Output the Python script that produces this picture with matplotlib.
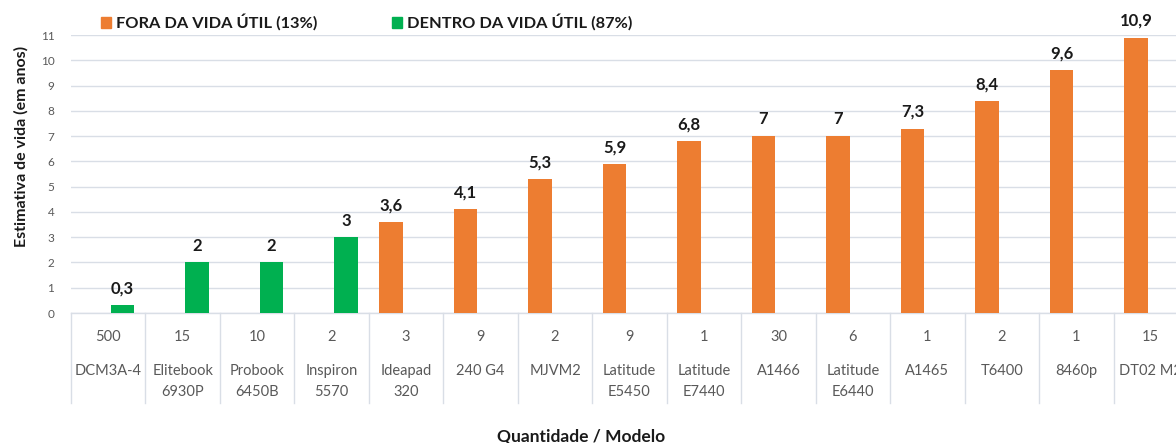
import matplotlib
matplotlib.use("Agg")
import matplotlib.pyplot as plt
from matplotlib.patches import Rectangle

plt.rcParams["font.family"] = ["Lato", "DejaVu Sans"]

# ----------------------------- dados -----------------------------
quantidades = ["500", "15", "10", "2", "3", "9", "2", "9", "1", "30", "6", "1", "2", "1", "15"]
modelos = ["DCM3A-4", "Elitebook\n6930P", "Probook\n6450B", "Inspiron\n5570", "Ideapad\n320",
           "240 G4", "MJVM2", "Latitude\nE5450", "Latitude\nE7440", "A1466", "Latitude\nE6440",
           "A1465", "T6400", "8460p", "DT02 M2"]
vida = [0.3, 2, 2, 3, 3.6, 4.1, 5.3, 5.9, 6.8, 7, 7, 7.3, 8.4, 9.6, 10.9]
dentro = [True, True, True, True] + [False] * 11   # dentro da vida útil?

ORANGE, GREEN = "#ED7D31", "#00B050"
GRAY_TXT, GRID = "#595959", "#D9DEE6"

W, H = 1176, 443
fig = plt.figure(figsize=(W / 100, H / 100), dpi=100)
ax = fig.add_axes([71 / W, 1 - 313 / H, 1117 / W, 278 / H])

x = list(range(len(vida)))
bw = 0.315
xo = [i - 0.20 for i, d in zip(x, dentro) if not d]
yo = [v for v, d in zip(vida, dentro) if not d]
xg = [i + 0.19 for i, d in zip(x, dentro) if d]
yg = [v for v, d in zip(vida, dentro) if d]
ax.bar(xo, yo, width=bw, color=ORANGE, zorder=3)
ax.bar(xg, yg, width=bw, color=GREEN, zorder=3)

for xs, ys in ((xo, yo), (xg, yg)):
    for xi, v in zip(xs, ys):
        s = f"{v:g}".replace(".", ",")
        ax.annotate(s, (xi, v), xytext=(0, 12), textcoords="offset points",
                    ha="center", va="center", fontsize=12, fontweight="bold",
                    color="#1a1a1a", annotation_clip=False)

ax.set_xlim(-0.5, len(vida) - 0.5)
ax.set_ylim(0, 11)
ax.set_yticks(range(0, 12))
ax.tick_params(axis="y", length=0, labelsize=8.5, labelcolor=GRAY_TXT, pad=12)
ax.set_xticks([])
ax.grid(axis="y", color=GRID, linewidth=1, zorder=0)
for sp in ("top", "right", "left"):
    ax.spines[sp].set_visible(False)
ax.spines["bottom"].set_color(GRID)
ax.spines["bottom"].set_linewidth(1)

# tabela de dados abaixo do eixo
trans = ax.get_xaxis_transform()
for b in range(len(vida) + 1):
    ax.plot([b - 0.5, b - 0.5], [0, -90 / 278], transform=trans, color=GRID,
            linewidth=1, clip_on=False)
for i, (q, m) in enumerate(zip(quantidades, modelos)):
    ax.text(i, -24 / 278, q, transform=trans, ha="center", va="center",
            fontsize=10.5, color=GRAY_TXT)
    for k, linha in enumerate(m.split("\n")):
        ax.text(i, (-58 - 21 * k) / 278, linha, transform=trans, ha="center",
                va="center", fontsize=10.5, color=GRAY_TXT)

fig.text(21 / W, 1 - 146 / H, "Estimativa de vida (em anos)", rotation=90,
         ha="center", va="center", fontsize=11.5, fontweight="bold", color="#1a1a1a")
fig.text(581 / W, 1 - 437 / H, "Quantidade / Modelo", ha="center", va="center",
         fontsize=12.5, fontweight="bold", color="#1a1a1a")

# legenda
for (x0, cor, rot) in ((101, ORANGE, "FORA DA VIDA ÚTIL (13%)"),
                       (392, GREEN, "DENTRO DA VIDA ÚTIL (87%)")):
    fig.patches.append(Rectangle((x0 / W, 1 - 28 / H), 10 / W, 11 / H,
                                 transform=fig.transFigure, color=cor))
    fig.text((x0 + 15) / W, 1 - 22 / H, rot, ha="left", va="center",
             fontsize=11.8, fontweight="bold", color="#1a1a1a")

fig.savefig("out.png", dpi=100)
